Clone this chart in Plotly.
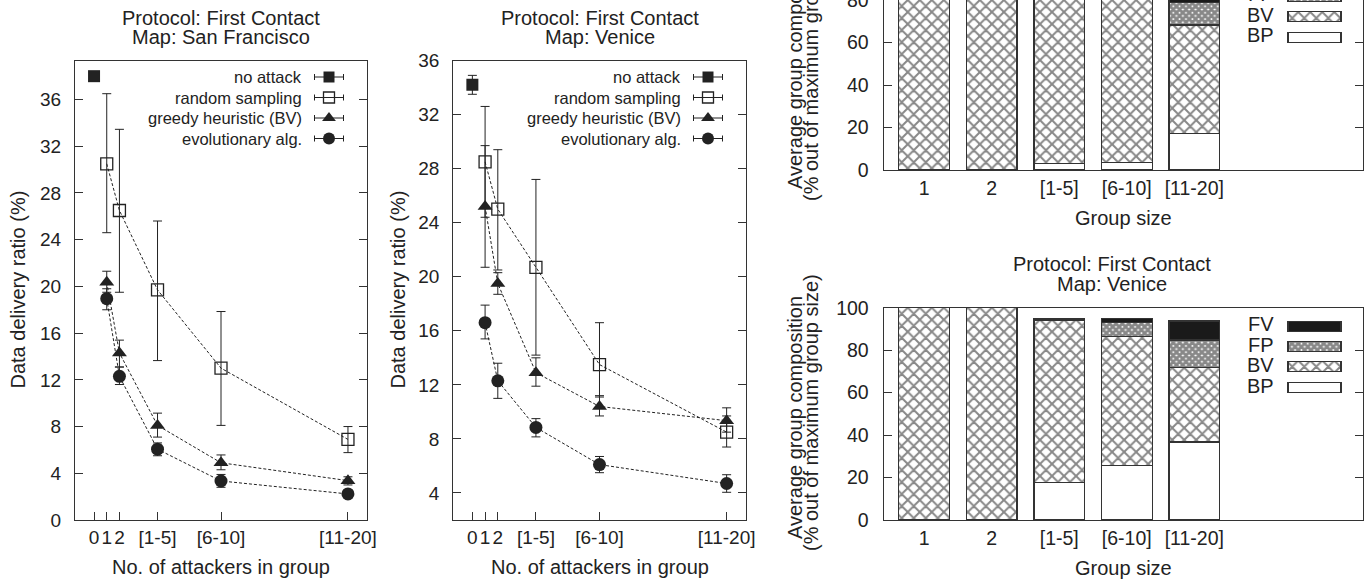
import plotly.graph_objects as go

W, H = 1372, 584
FONT = "Liberation Sans, Arial, Helvetica, sans-serif"
INK = "#222222"

# ---------------- left panels: delivery ratio ----------------
x_pos = [1, 2, 5, 10, 20]
x_noattack = [0]
x_tickvals = [0, 1, 2, 5, 10, 20]
x_ticktext = ["0", "1", "2", "[1-5]", "[6-10]", "[11-20]"]
series_names = ["no attack", "random sampling", "greedy heuristic (BV)", "evolutionary alg."]

sf_noattack = [38.0]
sf_noattack_hi = [38.35]
sf_noattack_lo = [37.65]
sf_random = [30.5, 26.5, 19.7, 13.0, 6.9]
sf_random_hi = [36.5, 33.45, 25.6, 17.85, 8.0]
sf_random_lo = [24.6, 19.5, 13.65, 8.1, 5.77]
sf_greedy = [20.35, 14.3, 8.1, 4.9, 3.37]
sf_greedy_hi = [21.3, 15.4, 9.15, 5.57, 3.7]
sf_greedy_lo = [19.5, 13.1, 7.1, 4.3, 3.0]
sf_evo = [18.95, 12.3, 6.06, 3.34, 2.23]
sf_evo_hi = [19.8, 13.1, 6.6, 3.9, 2.5]
sf_evo_lo = [18.0, 11.6, 5.5, 2.8, 1.95]

ve_noattack = [34.2]
ve_noattack_hi = [34.9]
ve_noattack_lo = [33.5]
ve_random = [28.5, 25.0, 20.7, 13.5, 8.5]
ve_random_hi = [32.6, 29.4, 27.2, 16.6, 9.7]
ve_random_lo = [20.7, 20.5, 14.2, 11.1, 7.4]
ve_greedy = [25.2, 19.5, 12.9, 10.4, 9.35]
ve_greedy_hi = [29.7, 20.3, 14.0, 11.2, 10.3]
ve_greedy_lo = [24.4, 18.7, 11.9, 9.7, 8.5]
ve_evo = [16.6, 12.3, 8.85, 6.1, 4.7]
ve_evo_hi = [17.9, 13.6, 9.5, 6.7, 5.35]
ve_evo_lo = [15.4, 11.0, 8.15, 5.5, 4.05]

# ---------------- right panels: group composition ----------------
group_cats = ["1", "2", "[1-5]", "[6-10]", "[11-20]"]
comp_names = ["BP", "BV", "FP", "FV"]
sf_bp = [0, 0, 3.1, 3.4, 17.3]
sf_bv = [100, 100, 92.5, 89.0, 50.9]
sf_fp = [0, 0, 0.4, 2.0, 10.5]
sf_fv = [0, 0, 0.6, 1.2, 8.0]
ve_bp = [0, 0, 17.7, 25.6, 36.7]
ve_bv = [100, 100, 76.2, 60.7, 35.0]
ve_fp = [0, 0, 0.0, 6.8, 13.1]
ve_fv = [0, 0, 0.8, 1.9, 8.9]


def px(x):
    return x / W


def py(y):
    return 1 - y / H


fig = go.Figure()

markers = {
    "no attack": dict(symbol="square", size=12, color=INK),
    "random sampling": dict(symbol="square-open", size=12, color=INK, line=dict(width=1.3, color=INK)),
    "greedy heuristic (BV)": dict(symbol="triangle-up", size=13, color=INK),
    "evolutionary alg.": dict(symbol="circle", size=13, color=INK),
}


def err(y, hi, lo):
    return dict(type="data", symmetric=False,
                array=[h - v for h, v in zip(hi, y)],
                arrayminus=[v - l for v, l in zip(y, lo)],
                color=INK, thickness=1, width=4.5)


def add_delivery(xa, ya, na, na_hi, na_lo, series):
    fig.add_trace(go.Scatter(x=x_noattack, y=na, mode="markers", marker=markers["no attack"],
                             error_y=err(na, na_hi, na_lo), xaxis=xa, yaxis=ya, showlegend=False))
    for name, (y, hi, lo) in zip(series_names[1:], series):
        fig.add_trace(go.Scatter(x=x_pos, y=y, mode="lines+markers", marker=markers[name],
                                 line=dict(color=INK, width=1, dash="3px,2px"),
                                 error_y=err(y, hi, lo), xaxis=xa, yaxis=ya, showlegend=False))


add_delivery("x", "y", sf_noattack, sf_noattack_hi, sf_noattack_lo,
             [(sf_random, sf_random_hi, sf_random_lo),
              (sf_greedy, sf_greedy_hi, sf_greedy_lo),
              (sf_evo, sf_evo_hi, sf_evo_lo)])
add_delivery("x2", "y2", ve_noattack, ve_noattack_hi, ve_noattack_lo,
             [(ve_random, ve_random_hi, ve_random_lo),
              (ve_greedy, ve_greedy_hi, ve_greedy_lo),
              (ve_evo, ve_evo_hi, ve_evo_lo)])

# bar styles
bar_styles = {
    "BP": dict(color="white"),
    "BV": dict(color="white", pattern=dict(shape="x", size=8.5, solidity=0.42, fgcolor="#111111", bgcolor="white")),
    "FP": dict(color="white", pattern=dict(shape="x", size=4.5, solidity=0.85, fgcolor="#111111", bgcolor="white")),
    "FV": dict(color="#1a1a1a"),
}
xcat = list(range(len(group_cats)))


def add_comp(xa, ya, vals):
    for name, v in zip(comp_names, vals):
        st = dict(bar_styles[name])
        st["line"] = dict(color="#333333", width=1.2)
        fig.add_trace(go.Bar(x=xcat, y=v, width=0.75, marker=st, xaxis=xa, yaxis=ya,
                             showlegend=False))


add_comp("x3", "y3", [sf_bp, sf_bv, sf_fp, sf_fv])
add_comp("x4", "y4", [ve_bp, ve_bv, ve_fp, ve_fv])

# ---------------- legend keys (drawn in a pixel overlay) ----------------
ann = []


def txt(x, y, s, size, anchor="center", angle=0):
    ann.append(dict(x=px(x), y=py(y), xref="paper", yref="paper", text=s, showarrow=False,
                    xanchor=anchor, yanchor="middle", textangle=angle,
                    font=dict(family=FONT, size=size, color=INK)))


rows_left = [77, 97.5, 118, 138.5]
for (tx, cx) in [(304, 329), (683, 708)]:
    for name, ry in zip(series_names, rows_left):
        txt(tx, ry, name, 16.5, anchor="right")
        fig.add_trace(go.Scatter(x=[cx], y=[ry], mode="markers",
                                 marker=dict(markers[name], size=11 if "square" in markers[name]["symbol"] else 12),
                                 error_x=dict(type="data", array=[14.5], color=INK, thickness=1, width=3),
                                 xaxis="x5", yaxis="y5", showlegend=False))

box_x0, box_w = 1288, 53


def legend_box(name, ry):
    st = dict(bar_styles[name])
    st["line"] = dict(color="#333333", width=1.2)
    fig.add_trace(go.Bar(x=[box_w], y=[ry], base=[box_x0], orientation="h", width=10,
                         marker=st, xaxis="x5", yaxis="y5", showlegend=False))


rows_bottom = {"FV": 326.3, "FP": 346.7, "BV": 366.7, "BP": 387.5}
for name, ry in rows_bottom.items():
    legend_box(name, ry)
    txt(1276, ry - 2, name, 20, anchor="right")
rows_top = {"FP": -3.9, "BV": 16.7, "BP": 37.3}
for name, ry in rows_top.items():
    legend_box(name, ry)
    txt(1276, ry - 2, name, 20, anchor="right")

# titles
for cx in (221, 600):
    txt(cx, 18, "Protocol: First Contact", 20)
txt(221, 37.5, "Map: San Francisco", 20)
txt(600, 37.5, "Map: Venice", 20)
txt(1112, 264, "Protocol: First Contact", 20)
txt(1112, 284.5, "Map: Venice", 20)

# axis titles
txt(221, 566.7, "No. of attackers in group", 20)
txt(600, 566.7, "No. of attackers in group", 20)
txt(17.5, 290, "Data delivery ratio (%)", 20, angle=-90)
txt(397.5, 290, "Data delivery ratio (%)", 20, angle=-90)
txt(1123, 568.3, "Group size", 20)
txt(1123, 218.3, "Group size", 20)
for off in (0, -350):
    txt(795, 418 + off, "Average group composition", 20, angle=-90)
    txt(811, 413 + off, "(% out of maximum group size)", 20, angle=-90)

axis_common = dict(showgrid=False, zeroline=False, showline=True, linecolor="#333333", linewidth=1.2,
                   ticks="inside", ticklen=8, tickcolor="#333333", tickwidth=1,
                   ticklabeloverflow="allow", automargin=False,
                   tickfont=dict(family=FONT, size=19, color=INK))

L1 = (75, 367)
L2 = (453.3, 745.7)
R = (883.7, 1363.1)
RFONT = dict(family=FONT, size=19.5, color=INK)

layout = dict(
    width=W, height=H, margin=dict(l=0, r=0, t=0, b=0, autoexpand=False),
    paper_bgcolor="white", plot_bgcolor="rgba(0,0,0,0)",
    barmode="stack", showlegend=False, annotations=ann,
    xaxis=dict(axis_common, domain=[px(L1[0]), px(L1[1])], range=[-1.5, 21.5], anchor="y",
               tickvals=x_tickvals, ticktext=x_ticktext, tickangle=0, mirror=True, ticklabelstandoff=0),
    yaxis=dict(axis_common, domain=[py(520), py(61)], range=[0, 39.3], anchor="x",
               tick0=0, dtick=4, mirror="ticks", ticklabelstandoff=9),
    xaxis2=dict(axis_common, domain=[px(L2[0]), px(L2[1])], range=[-1.5, 21.5], anchor="y2",
                tickvals=x_tickvals, ticktext=x_ticktext, tickangle=0, mirror=True, ticklabelstandoff=0),
    yaxis2=dict(axis_common, domain=[py(520), py(60.5)], range=[2, 36], anchor="x2",
                tickvals=list(range(4, 37, 4)), mirror="ticks", ticklabelstandoff=9),
    xaxis3=dict(axis_common, domain=[px(R[0]), px(R[1])], range=[-0.6, 6.5], anchor="y3",
                tickvals=xcat, ticktext=group_cats, ticks="", tickangle=0, mirror=False,
                ticklabelstandoff=0, tickfont=RFONT),
    yaxis3=dict(axis_common, domain=[py(170), 1], range=[0, 80], anchor="x3",
                tickvals=[0, 20, 40, 60, 80], mirror="ticks", ticklabelstandoff=10, tickfont=RFONT),
    xaxis4=dict(axis_common, domain=[px(R[0]), px(R[1])], range=[-0.6, 6.5], anchor="y4",
                tickvals=xcat, ticktext=group_cats, ticks="", tickangle=0, mirror=True,
                ticklabelstandoff=0, tickfont=RFONT),
    yaxis4=dict(axis_common, domain=[py(520), py(307.7)], range=[0, 100], anchor="x4",
                tick0=0, dtick=20, mirror="ticks", ticklabelstandoff=10, tickfont=RFONT),
    xaxis5=dict(domain=[0, 1], range=[0, W], visible=False, fixedrange=True, anchor="y5"),
    yaxis5=dict(domain=[0, 1], range=[H, 0], visible=False, fixedrange=True, anchor="x5"),
)
fig.update_layout(**layout)
fig.write_html("out.html")
